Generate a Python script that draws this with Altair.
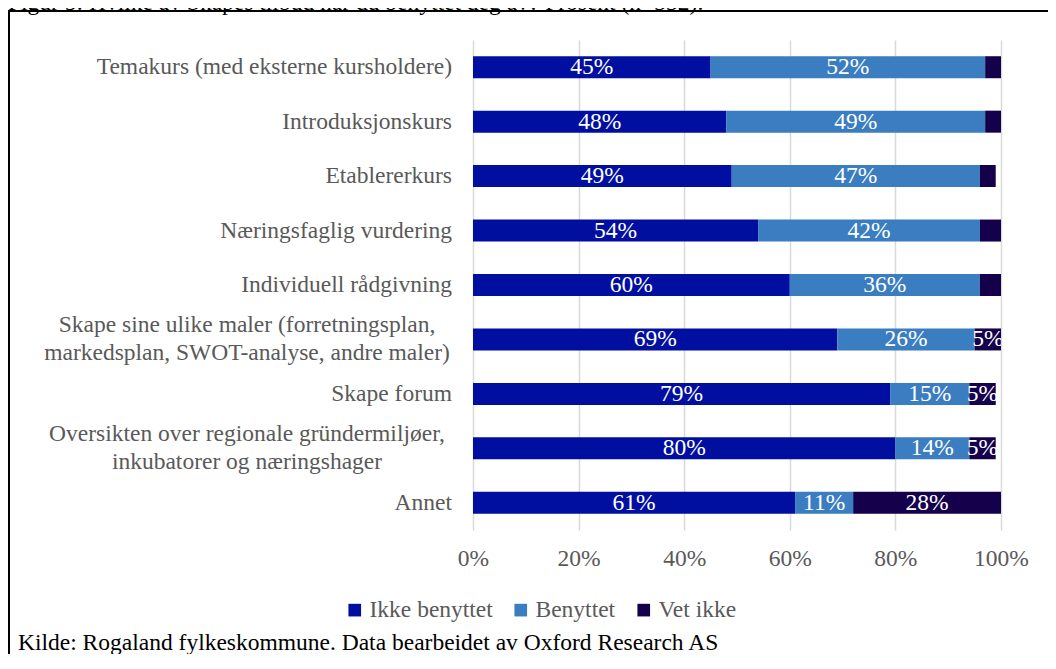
import altair as alt
import pandas as pd

# ---------------- data ----------------
categories = [
    "Temakurs (med eksterne kursholdere)",
    "Introduksjonskurs",
    "Etablererkurs",
    "Næringsfaglig vurdering",
    "Individuell rådgivning",
    "Skape sine ulike maler (forretningsplan,|markedsplan, SWOT-analyse, andre maler)",
    "Skape forum",
    "Oversikten over regionale gründermiljøer,|inkubatorer og næringshager",
    "Annet",
]
series = ["Ikke benyttet", "Benyttet", "Vet ikke"]
ikke_benyttet = [45, 48, 49, 54, 60, 69, 79, 80, 61]
benyttet = [52, 49, 47, 42, 36, 26, 15, 14, 11]
vet_ikke = [3, 3, 3, 4, 4, 5, 5, 5, 28]
colors = ["#000f9f", "#3a7dc1", "#14004b"]
x_ticks = [0, 20, 40, 60, 80, 100]
title_text = "Figur 5: Hvilke av Skapes tilbud har du benyttet deg av? Prosent (n=332)."
source_text = "Kilde: Rogaland fylkeskommune. Data bearbeidet av Oxford Research AS"

FONT = "Liberation Serif"
FS = 23.5
GREY = "#595959"

# ---------------- table ----------------
rows = []
for i, cat in enumerate(categories):
    start = 0
    for j, (name, vals) in enumerate(zip(series, [ikke_benyttet, benyttet, vet_ikke])):
        v = vals[i]
        rows.append({
            "cat": cat,
            "series": name,
            "order": j,
            "value": v,
            "start": start,
            "end": start + v,
            "mid": start + v / 2,
            "label": f"{v}%" if v >= 5 else "",
        })
        start += v
df = pd.DataFrame(rows)
cats_df = pd.DataFrame({"cat": categories})
cats_df["multi"] = cats_df["cat"].str.contains(r"\|")

y_enc = alt.Y("cat:N", sort=categories, axis=None,
              scale=alt.Scale(paddingInner=0, paddingOuter=0))
x_scale = alt.Scale(domain=[0, 100], nice=False)

bars = alt.Chart(df).mark_bar(size=22).encode(
    x=alt.X("start:Q", scale=x_scale,
            axis=alt.Axis(values=x_ticks, labelExpr="datum.value + '%'", title=None,
                          domain=False, ticks=False, grid=True, gridColor="#d9d9d9",
                          gridWidth=1.5, labelFont=FONT, labelFontSize=FS,
                          labelColor=GREY, labelPadding=16, labelFlush=False,
                          labelOverlap=False)),
    x2="end:Q",
    y=y_enc,
    color=alt.Color("series:N", scale=alt.Scale(domain=series, range=colors),
                    legend=alt.Legend(title=None, orient="none", legendX=-130, legendY=558,
                                      direction="horizontal", symbolType="square",
                                      symbolSize=160, symbolStrokeWidth=0, padding=0,
                                      labelFont=FONT, labelFontSize=FS, labelColor=GREY,
                                      labelOffset=3, columnPadding=16)),
    order=alt.Order("order:Q"),
)

bar_labels = alt.Chart(df).mark_text(
    font=FONT, fontSize=FS, color="white", align="center", baseline="middle", clip=True
).encode(
    x=alt.X("mid:Q", scale=x_scale),
    y=y_enc,
    text="label:N",
)

ylab_single = alt.Chart(cats_df).transform_filter("!datum.multi").mark_text(
    font=FONT, fontSize=FS, color=GREY, align="right", baseline="middle"
).encode(x=alt.value(-21), y=y_enc, text="cat:N")

ylab_multi = alt.Chart(cats_df).transform_filter("datum.multi").mark_text(
    font=FONT, fontSize=FS, color=GREY, align="center", baseline="middle",
    lineBreak="|", lineHeight=28, dy=-14
).encode(x=alt.value(-226), y=y_enc, text="cat:N")

title = alt.Chart(pd.DataFrame({"t": [title_text]})).mark_text(
    font=FONT, fontSize=FS, color="black", align="left", baseline="alphabetic"
).encode(x=alt.value(-465), y=alt.value(-30), text="t:N")

source = alt.Chart(pd.DataFrame({"t": [source_text]})).mark_text(
    font=FONT, fontSize=FS, color="black", align="left", baseline="alphabetic"
).encode(x=alt.value(-455), y=alt.value(610), text="t:N")

frame = alt.Chart(pd.DataFrame({"f": [0]})).mark_rect(
    fillOpacity=0, stroke="black", strokeWidth=2
).encode(x=alt.value(-464), x2=alt.value(900), y=alt.value(-29), y2=alt.value(900))

chart = alt.layer(bars, bar_labels, ylab_single, ylab_multi, title, source, frame).properties(
    width=528, height=490,
    autosize=alt.AutoSizeParams(type="none"),
    padding={"left": 465, "top": 32, "right": 47, "bottom": 124},
    background="white",
).configure_view(stroke=None)

chart.save("out.html", embed_options={"renderer": "svg", "actions": False})
